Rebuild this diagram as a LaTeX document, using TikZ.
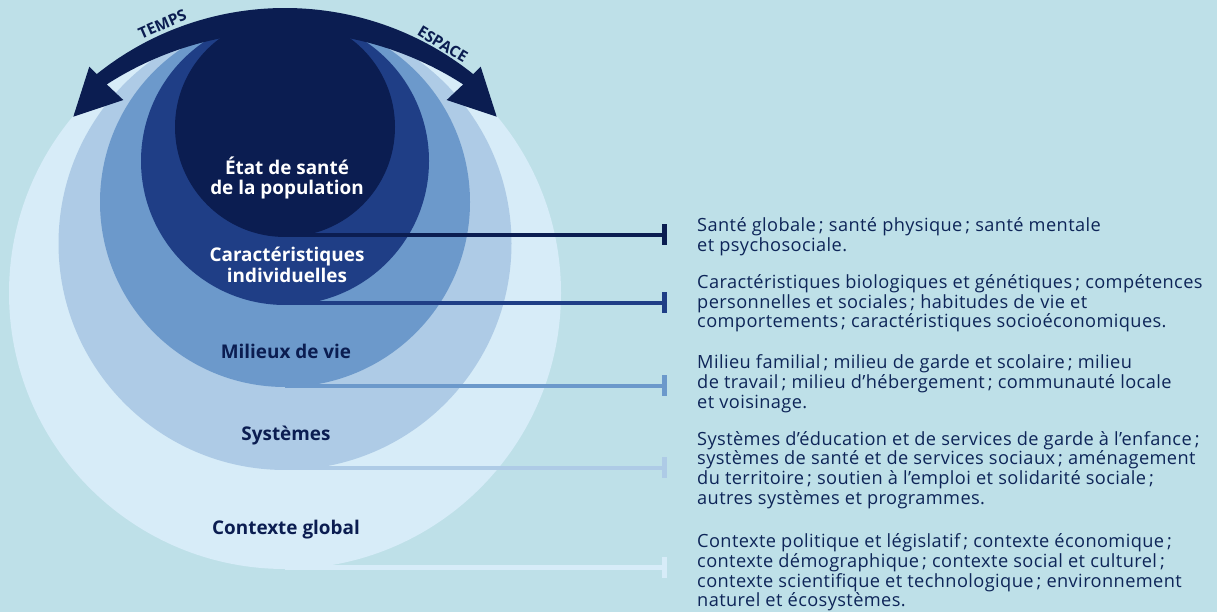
\documentclass[tikz,border=0pt]{standalone}
\usepackage{fontspec}
\setmainfont{Open Sans}
\newfontfamily\descfont[LetterSpace=2.2]{Open Sans}
\usetikzlibrary{arrows.meta}
\definecolor{bg}{HTML}{BEE0E8}
\definecolor{cA}{HTML}{0B1D51}
\definecolor{cB}{HTML}{1F3E86}
\definecolor{cC}{HTML}{6C99CB}
\definecolor{cD}{HTML}{AECBE6}
\definecolor{cE}{HTML}{D7ECF8}
\definecolor{txt}{HTML}{0E2558}
\tikzset{
  disc/.style={circle,inner sep=0pt,outer sep=0pt},
  inlab/.style={font=\bfseries\fontsize{18.9}{20.5}\selectfont,align=center,inner sep=0pt},
  desc/.style={font=\descfont\fontsize{18.2}{19.8}\selectfont,align=left,anchor=west,inner sep=0pt,text=txt},
  link/.style={line width=4.8pt,-{Bar[width=21pt]}},
  arclab/.style={font=\bfseries\fontsize{15.5}{16}\selectfont,text=cA,inner sep=0pt}
}
\begin{document}
\begin{tikzpicture}[x=1pt,y=1pt]
\fill[bg] (0,0) rectangle (1217,612);
\useasboundingbox (0,0) rectangle (1217,612);
% nested discs
\node[disc,fill=cE,minimum size=552pt] (ctx) at (285,319) {};
\node[disc,fill=cD,minimum size=453pt] (sys) at (285,368.5) {};
\node[disc,fill=cC,minimum size=370pt] (mil) at (285,410) {};
\node[disc,fill=cB,minimum size=288pt] (ind) at (285,451) {};
\node[disc,fill=cA,minimum size=220pt] (eta) at (285,485) {};
% arrow band
\fill[cA] (96.8,537.9) arc[start angle=128.7,end angle=51.3,radius=301]
  -- (480.7,545.3) -- (496.7,495.3) -- (446.7,512) -- (463.2,527.6)
  arc[start angle=57.2,end angle=122.8,radius=329]
  -- (123.3,512) -- (73.3,495.3) -- (89.3,545.3) -- cycle;
\node[arclab,rotate=23.5] (temps) at ([shift={(285,303)}]113.3:310) {TEMPS};
\node[arclab,rotate=-31.2] (espace) at ([shift={(285,303)}]59.2:308) {ESPACE};
% connectors
\coordinate (s1) at (285,377); \coordinate (e1) at (667,377);
\coordinate (s2) at (285,309); \coordinate (e2) at (667,309);
\coordinate (s3) at (285,226); \coordinate (e3) at (667,226);
\coordinate (s4) at (285,144); \coordinate (e4) at (667,144);
\coordinate (s5) at (285,44.5); \coordinate (e5) at (667,44.5);
\draw[link,cE] (s5) -- (e5);
\draw[link,cD] (s4) -- (e4);
\draw[link,cC] (s3) -- (e3);
\draw[link,cB] (s2) -- (e2);
\draw[link,cA] (s1) -- (e1);
% labels
\node[inlab,text=white] (l1) at (287,434) {État de santé\\de la population};
\node[inlab,text=white] (l2) at (287,347) {Caractéristiques\\individuelles};
\node[inlab,text=cA] (l3) at (286,261) {Milieux de vie};
\node[inlab,text=cA] (l4) at (286,176) {Systèmes};
\node[inlab,text=cA] (l5) at (286,82) {Contexte global};
% descriptions
\node[desc] (d1) at (697,375.3) {Santé globale\,; santé physique\,; santé mentale\\et psychosociale.};
\node[desc] (d2) at (697,308.7) {Caractéristiques biologiques et génétiques\,; compétences\\personnelles et sociales\,; habitudes de vie et\\comportements\,; caractéristiques socioéconomiques.};
\node[desc] (d3) at (697,228.3) {Milieu familial\,; milieu de garde et scolaire\,; milieu\\de travail\,; milieu d’hébergement\,; communauté locale\\et voisinage.};
\node[desc] (d4) at (697,142) {Systèmes d’éducation et de services de garde à l’enfance\,;\\systèmes de santé et de services sociaux\,; aménagement\\du territoire\,; soutien à l’emploi et solidarité sociale\,;\\autres systèmes et programmes.};
\node[desc] (d5) at (697,39.5) {Contexte politique et législatif\,; contexte économique\,;\\contexte démographique\,; contexte social et culturel\,;\\contexte scientifique et technologique\,; environnement\\naturel et écosystèmes.};
\end{tikzpicture}
\end{document}
